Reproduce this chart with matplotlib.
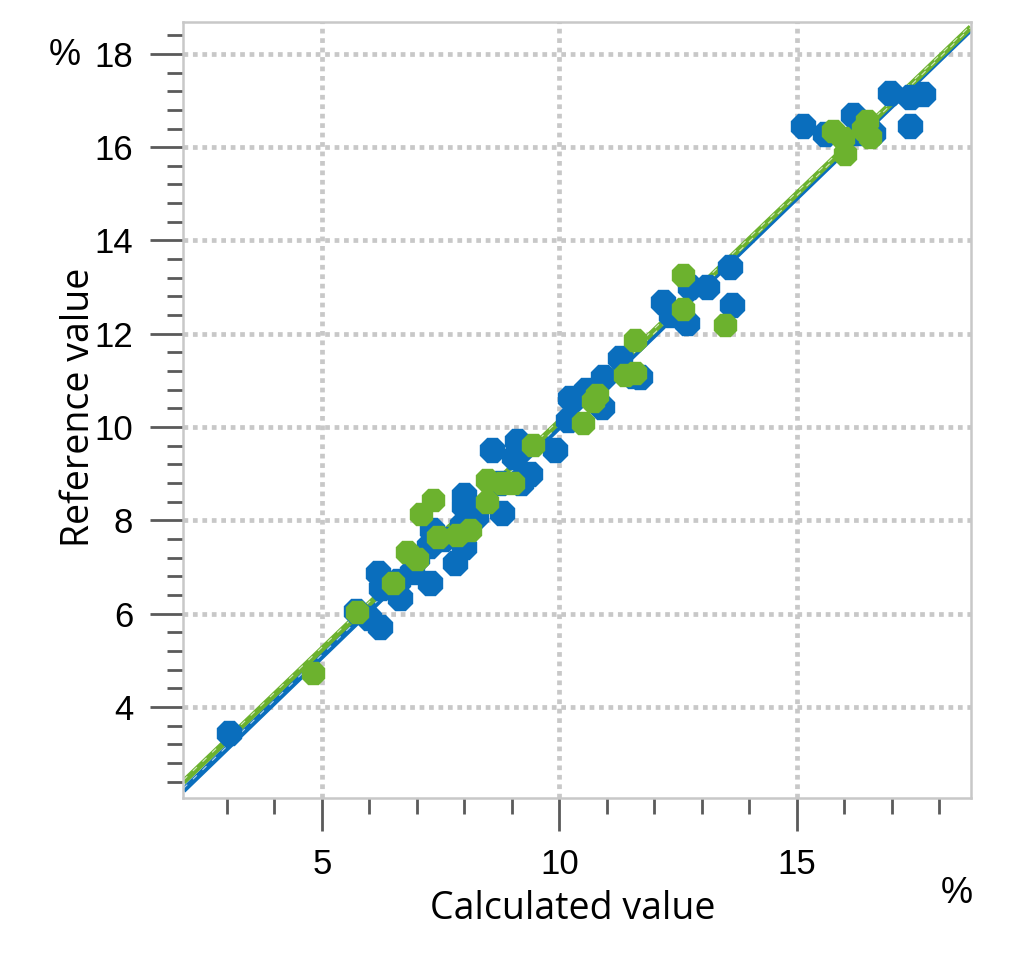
import matplotlib
matplotlib.use("Agg")
import matplotlib.pyplot as plt
from matplotlib.ticker import MultipleLocator
import numpy as np

plt.rcParams["font.family"] = ["Liberation Sans", "DejaVu Sans"]

# calibration data (calculated vs reference, %)
blue_calc = [3.04, 5.72, 6.0, 6.22, 6.18, 6.25, 6.64, 6.6, 6.9, 7.27, 7.0, 7.32, 7.25,
             7.55, 7.8, 8.0, 7.95, 8.0, 8.0, 8.25, 8.58, 8.8, 8.75, 9.1, 9.05, 9.38,
             9.2, 9.9, 10.22, 10.18, 10.55, 10.9, 10.92, 11.27, 11.69, 11.55, 12.18,
             12.35, 12.68, 12.75, 13.1, 13.59, 13.63, 15.13, 15.59, 16.18, 16.3,
             16.96, 17.38, 17.65, 17.38, 16.6]
blue_ref = [3.44, 6.05, 5.9, 5.71, 6.86, 6.55, 6.33, 6.7, 6.9, 6.65, 7.2, 7.79, 7.45,
            7.6, 7.08, 7.43, 7.9, 8.3, 8.55, 8.1, 9.5, 8.15, 8.8, 9.7, 9.35, 9.0,
            8.8, 9.5, 10.62, 10.14, 10.8, 10.43, 11.07, 11.47, 11.07, 11.1, 12.67,
            12.4, 12.24, 13.0, 13.0, 13.43, 12.61, 16.46, 16.29, 16.68, 16.3,
            17.17, 17.07, 17.15, 16.46, 16.3]

green_calc = [4.81, 5.74, 6.49, 6.79, 7.0, 7.08, 7.34, 7.44, 7.84, 8.12, 8.47, 8.47,
              8.8, 9.02, 9.44, 10.49, 10.79, 10.7, 11.38, 11.59, 11.59, 12.6, 12.6,
              13.48, 15.76, 16.01, 16.39, 16.47, 16.54, 15.97]
green_ref = [4.72, 6.03, 6.65, 7.32, 7.18, 8.13, 8.43, 7.64, 7.68, 7.79, 8.39, 8.86,
             8.8, 8.79, 9.61, 10.08, 10.68, 10.55, 11.11, 11.15, 11.86, 12.54, 13.25,
             12.18, 16.35, 15.86, 16.4, 16.57, 16.21, 16.19]

# regression lines: (slope, intercept)
blue_fit = (0.984, 0.164)
green_fit = (0.976, 0.36)

xlim = (2.08, 18.66)
ylim = (2.04, 18.68)

BLUE = "#0a6ebd"
GREEN = "#6cb22e"
GRID = "#c8c8c8"
TICK = "#5a5a5a"

fig = plt.figure(figsize=(10.24, 9.63), dpi=100)
ax = fig.add_axes([0.179, 0.171, 0.769, 0.806])

xs = np.array(xlim)
for (m, b), col in [(blue_fit, BLUE), (green_fit, GREEN)]:
    ax.plot(xs, m * xs + b, color=col, lw=4.2, zorder=2, solid_capstyle="butt")
    ax.plot(xs, m * xs + b + 0.04, color="white", lw=0.8, zorder=2.1,
            dashes=(5, 7), alpha=0.7)

ax.plot(blue_calc, blue_ref, ls="none", marker="8", ms=18, color=BLUE,
        mec=BLUE, zorder=3)
ax.plot(green_calc, green_ref, ls="none", marker="8", ms=17, color=GREEN,
        mec=GREEN, zorder=4)

ax.set_xlim(xlim)
ax.set_ylim(ylim)

ax.xaxis.set_major_locator(MultipleLocator(5))
ax.xaxis.set_minor_locator(MultipleLocator(1))
ax.yaxis.set_major_locator(MultipleLocator(2))
ax.yaxis.set_minor_locator(MultipleLocator(0.4))

ax.grid(True, which="major", color=GRID, lw=3.4, linestyle=(0, (1, 1)))
ax.set_axisbelow(True)

for sp in ax.spines.values():
    sp.set_color(GRID)
    sp.set_linewidth(1.8)

ax.tick_params(which="major", length=24, width=2, color=TICK, pad=12,
               labelcolor="black", labelsize=25)
ax.tick_params(which="minor", length=11.5, width=2, color=TICK)

ax.set_xlabel("Calculated value", fontsize=27, fontfamily="Open Sans")
ax.set_ylabel("Reference value", fontsize=27, fontfamily="Open Sans")
ax.xaxis.set_label_coords(0.494, -0.142)
ax.xaxis.label.set_va("center")
ax.yaxis.set_label_coords(-0.133, 0.504)
ax.yaxis.label.set_va("center")

ax.text(0.982, -0.122, "%", transform=ax.transAxes, fontsize=26,
        ha="center", va="center")
ax.text(-0.150, 0.957, "%", transform=ax.transAxes, fontsize=26,
        ha="center", va="center")

fig.savefig("out.png", dpi=100)
